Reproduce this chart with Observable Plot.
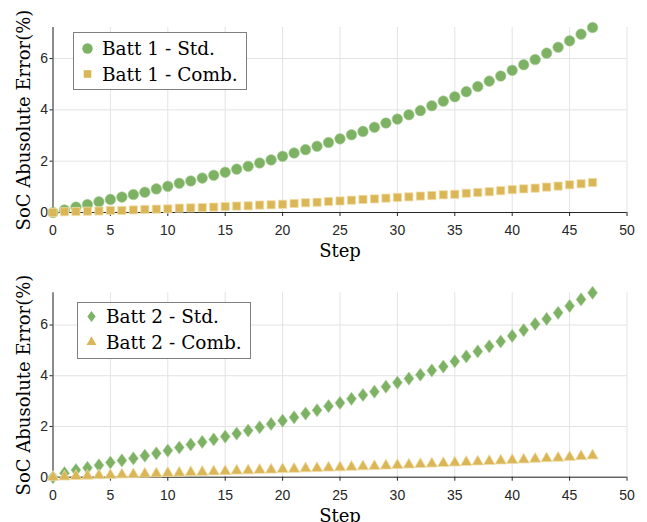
<!DOCTYPE html>
<html>
<head>
<meta charset="utf-8">
<script src="https://cdn.jsdelivr.net/npm/d3@7"></script>
<script src="https://cdn.jsdelivr.net/npm/@observablehq/plot@0.6"></script>
<style>
  html, body { margin: 0; padding: 0; background: #fff; }
  #wrap { position: relative; width: 647px; height: 522px; overflow: hidden; }
  .panel { position: relative; width: 647px; height: 261px; }
  .legend { position: absolute; }
  .legend text { font-family: "DejaVu Serif", serif; font-size: 18.5px; fill: #000; }
</style>
</head>
<body>
<div id="wrap">
  <div class="panel" id="top"></div>
  <div class="panel" id="bottom"></div>
</div>
<script>
// Simulation steps
const steps = [0,1,2,3,4,5,6,7,8,9,10,11,12,13,14,15,16,17,18,19,20,21,22,23,
  24,25,26,27,28,29,30,31,32,33,34,35,36,37,38,39,40,41,42,43,44,45,46,47];

// SoC absolute error (%) per step
const batt1Std = [0.00,0.10,0.21,0.31,0.42,0.51,0.60,0.70,0.79,0.92,1.02,1.14,
  1.23,1.34,1.45,1.57,1.69,1.80,1.93,2.05,2.19,2.32,2.45,2.58,2.73,2.87,3.03,
  3.16,3.32,3.49,3.64,3.81,3.97,4.16,4.34,4.51,4.71,4.91,5.12,5.32,5.54,5.76,
  5.96,6.21,6.44,6.69,6.95,7.21];
const batt1Comb = [0.00,0.03,0.04,0.05,0.06,0.08,0.08,0.10,0.12,0.13,0.14,0.17,
  0.18,0.19,0.21,0.23,0.25,0.26,0.29,0.30,0.32,0.35,0.38,0.40,0.43,0.45,0.48,
  0.51,0.53,0.56,0.59,0.61,0.64,0.66,0.69,0.71,0.75,0.78,0.81,0.85,0.89,0.92,
  0.95,0.99,1.03,1.08,1.12,1.17];
const batt2Std = [0.00,0.16,0.28,0.37,0.47,0.58,0.66,0.74,0.85,0.94,1.05,1.17,
  1.29,1.39,1.49,1.60,1.72,1.84,1.97,2.10,2.23,2.36,2.51,2.64,2.80,2.93,3.09,
  3.24,3.37,3.57,3.73,3.89,4.04,4.21,4.36,4.57,4.76,4.96,5.16,5.35,5.57,5.80,
  6.04,6.24,6.48,6.75,7.01,7.27];
const batt2Comb = [0.00,0.02,0.04,0.05,0.07,0.08,0.10,0.11,0.13,0.14,0.16,0.17,
  0.19,0.20,0.22,0.23,0.25,0.26,0.28,0.29,0.31,0.32,0.34,0.35,0.37,0.38,0.40,
  0.42,0.43,0.45,0.47,0.49,0.51,0.53,0.55,0.57,0.59,0.61,0.63,0.65,0.67,0.69,
  0.72,0.74,0.76,0.79,0.82,0.85];

const xTicks = [0,5,10,15,20,25,30,35,40,45,50];
const yTicks = [0,2,4,6];
const xLabel = "Step";
const yLabel = "SoC Abusolute Error(%)";

const GREEN = "#7db265";
const GOLD = "#dbb656";
const AXIS = "#262626";
const GRID = "#e3e3e3";

// Rhombus taller than it is wide
const tallDiamond = {
  draw(ctx, size) {
    const r = Math.sqrt(size / Math.PI);
    const hh = 1.2 * r, hw = 0.9 * r;
    ctx.moveTo(0, -hh);
    ctx.lineTo(hw, 0);
    ctx.lineTo(0, hh);
    ctx.lineTo(-hw, 0);
    ctx.closePath();
  }
};

function panel({a, b, yMax, marginTop, marginBottom}) {
  const rowsA = steps.map((s, i) => ({step: s, err: a.values[i]}));
  const rowsB = steps.map((s, i) => ({step: s, err: b.values[i]}));
  return Plot.plot({
    width: 647,
    height: 261,
    marginLeft: 52.5,
    marginRight: 20.5,
    marginTop,
    marginBottom,
    style: {fontFamily: "'Liberation Sans', Arial, sans-serif", fontSize: "14px", color: AXIS, background: "#fff", overflow: "visible"},
    x: {domain: [0, 50]},
    y: {domain: [0, yMax]},
    marks: [
      Plot.gridX(xTicks, {stroke: GRID, strokeOpacity: 1}),
      Plot.gridY(yTicks, {stroke: GRID, strokeOpacity: 1}),
      Plot.ruleX([0], {stroke: AXIS, strokeWidth: 1}),
      Plot.ruleY([0], {stroke: AXIS, strokeWidth: 1}),
      Plot.axisX(xTicks, {tickSize: 4, tickPadding: 9, label: null, stroke: AXIS}),
      Plot.axisY(yTicks, {tickSize: 3, tickPadding: 2, label: null, stroke: AXIS}),
      Plot.text([xLabel], {frameAnchor: "bottom", textAnchor: "middle", lineAnchor: "middle", dy: 39, fontFamily: "'DejaVu Serif', serif", fontSize: 18, fill: "#000"}),
      Plot.text([yLabel], {frameAnchor: "left", textAnchor: "middle", lineAnchor: "middle", dx: -29, rotate: -90, fontFamily: "'DejaVu Serif', serif", fontSize: 18, fill: "#000"}),
      Plot.dot(rowsA, {x: "step", y: "err", symbol: a.symbol, r: a.r, fill: GREEN, stroke: "#a9cc96", strokeWidth: 0.6}),
      Plot.dot(rowsB, {x: "step", y: "err", symbol: b.symbol, r: b.r, fill: GOLD, stroke: "#efdca6", strokeWidth: 0.8})
    ]
  });
}

document.getElementById("top").append(panel({
  a: {values: batt1Std, symbol: "circle", r: 5.3},
  b: {values: batt1Comb, symbol: "square", r: 4.6},
  yMax: 7.21, marginTop: 27, marginBottom: 49
}));
document.getElementById("bottom").append(panel({
  a: {values: batt2Std, symbol: tallDiamond, r: 5.5},
  b: {values: batt2Comb, symbol: "triangle", r: 4.2},
  yMax: 7.27, marginTop: 31.3, marginBottom: 45.3
}));

// Legend boxes
function legend(host, {left, top, width, height, rows}) {
  const svg = d3.select(host).append("svg")
    .attr("class", "legend")
    .attr("width", width + 2).attr("height", height + 2)
    .style("left", (left - 1) + "px").style("top", (top - 1) + "px");
  svg.append("rect").attr("x", 1.5).attr("y", 1.5)
    .attr("width", width - 1).attr("height", height - 1)
    .attr("fill", "#fff").attr("stroke", "#7f7f7f").attr("stroke-width", 1);
  rows.forEach(r => {
    svg.append("path")
      .attr("transform", `translate(${r.mx + 1},${r.y + 1})`)
      .attr("d", d3.symbol(r.symbol, Math.PI * r.r * r.r)())
      .attr("fill", r.color);
    svg.append("text").attr("x", r.tx + 1).attr("y", r.y + 1)
      .attr("dominant-baseline", "central").text(r.label);
  });
}

legend(document.getElementById("top"), {
  left: 73, top: 32, width: 174, height: 58,
  rows: [
    {label: "Batt 1 - Std.", symbol: d3.symbolCircle, r: 5.2, color: GREEN, mx: 14.5, tx: 29, y: 16.5},
    {label: "Batt 1 - Comb.", symbol: d3.symbolSquare, r: 4.3, color: GOLD, mx: 14.5, tx: 29, y: 42}
  ]
});
legend(document.getElementById("bottom"), {
  left: 77, top: 41, width: 174, height: 57,
  rows: [
    {label: "Batt 2 - Std.", symbol: tallDiamond, r: 4.6, color: GREEN, mx: 14.5, tx: 29, y: 14.5},
    {label: "Batt 2 - Comb.", symbol: d3.symbolTriangle, r: 3.7, color: GOLD, mx: 14.5, tx: 29, y: 40}
  ]
});
</script>
</body>
</html>
